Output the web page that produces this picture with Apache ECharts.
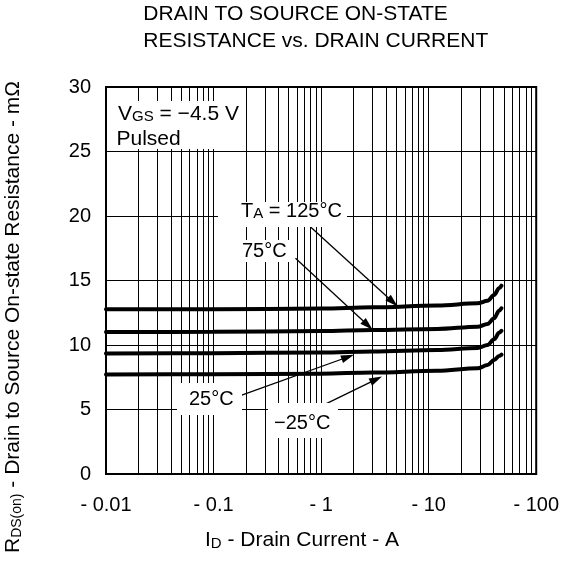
<!DOCTYPE html>
<html>
<head>
<meta charset="utf-8">
<script src="https://cdn.jsdelivr.net/npm/echarts@6/dist/echarts.min.js"></script>
<style>html,body{margin:0;padding:0;background:#fff}#c{width:562px;height:561px}</style>
</head>
<body>
<div id="c"></div>
<script>
// ---- data ----
const currentA = [0.01, 0.1, 1, 3, 12, 28.5, 35.3, 40.6, 45.2, 47.5];
const r125 = [12.77, 12.78, 12.82, 12.92, 13.06, 13.23, 13.43, 13.88, 14.4, 14.6];
const r75  = [11.0, 11.02, 11.08, 11.16, 11.24, 11.42, 11.63, 12.07, 12.66, 12.85];
const r25  = [9.35, 9.37, 9.42, 9.5, 9.61, 9.77, 10.0, 10.44, 10.95, 11.1];
const rm25 = [7.72, 7.73, 7.78, 7.86, 8.0, 8.19, 8.45, 8.84, 9.15, 9.25];
const xTickLabels = [0.01, 0.1, 1, 10, 100];
const xGridValues = [0.02,0.03,0.04,0.05,0.06,0.07,0.08,0.09,0.1,
                     0.2,0.3,0.4,0.5,0.6,0.7,0.8,0.9,1,
                     2,3,4,5,6,7,8,9,10,
                     20,30,40,50,60,70,80,90];
// arrows: [label end, arrow tip] in data coordinates
const arrow125 = [[0.794, 19.17], [4.65, 13.33]];
const arrow75  = [[0.578, 16.72], [2.72, 11.53]];
const arrow25  = [[0.183, 6.12], [1.77, 9.07]];
const arrowM25 = [[1.107, 5.43], [3.25, 7.34]];

const FF = '"Liberation Sans", Arial, sans-serif';
const zip = (xs, ys) => xs.map((x, i) => [x, ys[i]]);

const chart = echarts.init(document.getElementById('c'), null, {renderer: 'canvas'});

function curve(name, ys) {
  return {
    name, type: 'line', data: zip(currentA, ys), z: 5,
    showSymbol: false, symbol: 'none', smooth: 0.35, smoothMonotone: 'x',
    lineStyle: {color: '#000', width: 4, cap: 'round'}, silent: true
  };
}
function arrowItem(a) {
  return [{coord: a[0], symbol: 'none'}, {coord: a[1], symbol: 'triangle', symbolSize: [8, 13]}];
}

function whiteBox(x, y, w, h) {
  return {type: 'rect', z: 100, shape: {x, y, width: w, height: h}, style: {fill: '#fff'}, silent: true};
}
function txt(x, y, text, size, rich) {
  return {type: 'text', z: 101, x, y, silent: true,
    style: {text, fill: '#000', font: size + 'px ' + FF, fontSize: size, fontFamily: FF,
            align: 'left', verticalAlign: 'middle', rich: rich || {}}};
}
const subRich = (main, sub) => ({
  m: {fontSize: main, fontFamily: FF, fill: '#000', lineHeight: main, verticalAlign: 'bottom'},
  s: {fontSize: sub, fontFamily: FF, fill: '#000', lineHeight: main, verticalAlign: 'bottom'}
});

const option = {
  animation: false,
  backgroundColor: '#fff',
  grid: {left: 106, right: 23, top: 87, bottom: 87, show: true, borderColor: '#000', borderWidth: 2, backgroundColor: 'transparent'},
  xAxis: {
    type: 'log', logBase: 10, min: 0.01, max: 100,
    axisLine: {show: false}, axisTick: {show: false}, splitLine: {show: false},
    axisLabel: {
      fontSize: 20, fontFamily: FF, color: '#000', margin: 21,
      formatter: v => xTickLabels.some(t => Math.abs(t - v) / t < 1e-6) ? '- ' + (+(+v).toPrecision(3)) : ''
    }
  },
  yAxis: {
    type: 'value', min: 0, max: 30, interval: 5,
    axisLine: {show: false}, axisTick: {show: false},
    splitLine: {show: true, lineStyle: {color: '#000', width: 1}},
    axisLabel: {fontSize: 20, fontFamily: FF, color: '#000', margin: 15}
  },
  series: [
    {
      name: 'grid', type: 'line', data: [], z: 1, silent: true,
      markLine: {
        silent: true, symbol: 'none', animation: false,
        label: {show: false},
        lineStyle: {color: '#000', width: 1, type: 'solid'},
        emphasis: {disabled: true},
        data: xGridValues.map(v => ({xAxis: v}))
      }
    },
    curve('125', r125),
    curve('75', r75),
    curve('25', r25),
    curve('-25', rm25),
    {
      name: 'arrows', type: 'line', data: [], z: 6, silent: true,
      markLine: {
        silent: true, animation: false,
        label: {show: false},
        lineStyle: {color: '#000', width: 1.3, type: 'solid'},
        itemStyle: {color: '#000'},
        emphasis: {disabled: true},
        data: [arrowItem(arrow125), arrowItem(arrow75), arrowItem(arrow25), arrowItem(arrowM25)]
      }
    }
  ],
  graphic: [
    // title
    txt(143.3, 14.4, 'DRAIN TO SOURCE ON-STATE', 21),
    txt(143.3, 41.0, 'RESISTANCE vs. DRAIN CURRENT', 21),
    // axis names
    txt(205, 540.7, '{m|I}{s|D}{m| - Drain Current - A}', 21, subRich(21, 15)),
    {type: 'text', z: 101, x: 13.5, y: 317, rotation: Math.PI / 2, silent: true,
      style: {text: '{m|R}{s|DS(on)}{m| - Drain to Source On-state Resistance - mΩ}',
              fill: '#000', fontSize: 21, fontFamily: FF, align: 'center', verticalAlign: 'middle',
              rich: subRich(21, 14)}},
    // annotation boxes
    whiteBox(108, 101, 137, 48),
    txt(118, 114.3, '{m|V}{s|GS}{m| = −4.5 V}', 21, subRich(21, 15)),
    txt(116.5, 139.2, 'Pulsed', 21),
    whiteBox(218, 202, 129, 25),
    txt(241, 211.3, '{m|T}{s|A}{m| = 125°C}', 20, subRich(20, 15)),
    whiteBox(240, 240, 54, 22),
    txt(242, 251.3, '75°C', 20),
    whiteBox(177, 383, 65, 32),
    txt(189, 399.7, '25°C', 20),
    whiteBox(268, 403, 70, 35),
    txt(274, 423, '−25°C', 20)
  ]
};
chart.setOption(option);
</script>
</body>
</html>
